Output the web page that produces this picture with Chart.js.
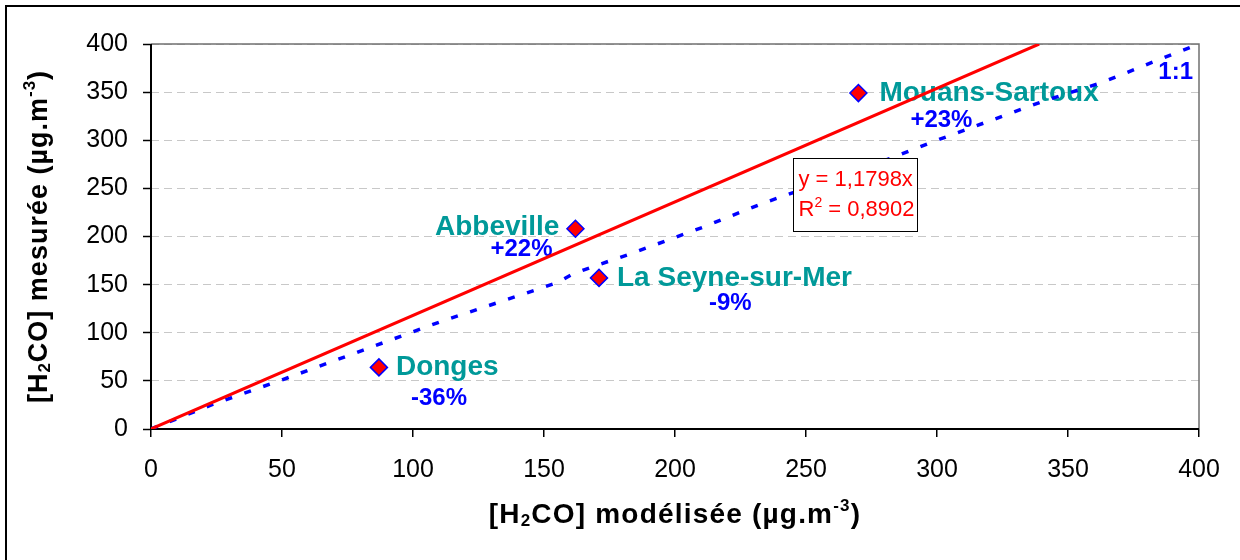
<!DOCTYPE html>
<html>
<head>
<meta charset="utf-8">
<script src="https://cdn.jsdelivr.net/npm/chart.js@4.4.1/dist/chart.umd.min.js"></script>
<style>
  html, body { margin: 0; padding: 0; background: #fff; }
  canvas { display: block; }
</style>
</head>
<body>
<canvas id="chart" width="1240" height="560"></canvas>
<script>
// H2CO per site, µg.m-3
var sites = ["Donges", "Abbeville", "La Seyne-sur-Mer", "Mouans-Sartoux"];
var modelled = [87, 162, 171, 270];
var measured = [64, 208, 157, 349];
var deltas = ["-36%", "+22%", "-9%", "+23%"];

// trend line through origin (ends where it leaves the plot)
var fitX = [0, 339];
var fitY = [0, 400];
var fitEquation = "y = 1,1798x";
var fitR2 = "0,8902";

// 1:1 line as traced on the picture (slightly wavy)
var oneX = [0, 24, 52, 67, 81, 96, 110, 132, 155, 161, 168, 183, 211, 233, 283, 298, 319, 341, 363, 384, 400];
var oneY = [0, 26, 53, 68, 82, 97, 111, 131, 152, 161, 168, 182, 210, 234, 282, 298, 319, 341, 360, 383, 400];

var tickValues = [0, 50, 100, 150, 200, 250, 300, 350, 400];

var FONT = "'Liberation Sans', Arial, sans-serif";
var TEAL = "#009999";
var BLUE = "#0000ff";
var RED = "#ff0000";

// label offsets from each marker, in px: [dx, dy, align]
var nameOffsets = [[17, 0, "left"], [-16, -2, "right"], [18, 0, "left"], [21, 0, "left"]];
var pctOffsets = [[32, 31, "left"], [-85, 21, "left"], [110, 25, "left"], [52, 27, "left"]];

function pts(xs, ys) {
  return xs.map(function (x, i) { return { x: x, y: ys[i] }; });
}

// draws a run of pieces, some raised or lowered, centred or left-aligned at (x, y)
function drawRich(ctx, pieces, x, y, size, weight, align, spacing) {
  ctx.letterSpacing = (spacing || 0) + "px";
  var w = 0;
  pieces.forEach(function (p) {
    var s = p.small ? Math.round(size * 0.62) : size;
    ctx.font = weight + " " + s + "px " + FONT;
    p.w = ctx.measureText(p.t).width;
    p.s = s;
    w += p.w;
  });
  var cx = align === "center" ? x - w / 2 : x;
  ctx.textAlign = "left";
  ctx.textBaseline = "alphabetic";
  var base = y + size * 0.36;
  pieces.forEach(function (p) {
    ctx.font = weight + " " + p.s + "px " + FONT;
    var dy = p.small === "sub" ? size * 0.12 : p.small === "sup" ? -size * 0.42 : 0;
    ctx.fillText(p.t, cx, base + dy);
    cx += p.w;
  });
  ctx.letterSpacing = "0px";
}

function text(ctx, t, x, y, size, weight, color, align) {
  ctx.font = weight + " " + size + "px " + FONT;
  ctx.fillStyle = color;
  ctx.textAlign = align;
  ctx.textBaseline = "middle";
  ctx.fillText(t, x, y);
}

var decorations = {
  id: "decorations",
  beforeDatasetsDraw: function (chart) {
    var ctx = chart.ctx, a = chart.chartArea;
    var xs = chart.scales.x, ys = chart.scales.y;
    ctx.save();
    // plot frame: grey top/right, black axes
    ctx.strokeStyle = "#707070";
    ctx.lineWidth = 1.5;
    ctx.beginPath();
    ctx.moveTo(a.left, a.top);
    ctx.lineTo(a.right, a.top);
    ctx.lineTo(a.right, a.bottom);
    ctx.stroke();
    ctx.strokeStyle = "#000";
    ctx.lineWidth = 2;
    ctx.beginPath();
    ctx.moveTo(a.left, a.top);
    ctx.lineTo(a.left, a.bottom);
    ctx.lineTo(a.right, a.bottom);
    ctx.stroke();

    // site names and differences
    sites.forEach(function (name, i) {
      var px = xs.getPixelForValue(modelled[i]);
      var py = ys.getPixelForValue(measured[i]);
      var n = nameOffsets[i], p = pctOffsets[i];
      text(ctx, name, px + n[0], py + n[1], 28, "bold", TEAL, n[2]);
      text(ctx, deltas[i], px + p[0], py + p[1], 24, "bold", BLUE, p[2]);
    });

    // 1:1 tag at the end of the line
    var ex = xs.getPixelForValue(oneX[oneX.length - 1]);
    var ey = ys.getPixelForValue(oneY[oneY.length - 1]);
    text(ctx, "1:1", ex - 6, ey + 28, 24, "bold", BLUE, "right");
    ctx.restore();
  },
  afterDraw: function (chart) {
    var ctx = chart.ctx, a = chart.chartArea;
    var xs = chart.scales.x, ys = chart.scales.y;
    ctx.save();

    // equation box
    var bx = Math.round(xs.getPixelForValue(245)) + 0.5;
    var by = Math.round(ys.getPixelForValue(282)) + 0.5;
    ctx.fillStyle = "#fff";
    ctx.fillRect(bx, by, 124, 73);
    ctx.strokeStyle = "#000";
    ctx.lineWidth = 1;
    ctx.strokeRect(bx, by, 124, 73);
    ctx.fillStyle = RED;
    drawRich(ctx, [{ t: fitEquation }], bx + 5, by + 20, 22, "normal", "left");
    drawRich(ctx, [{ t: "R" }, { t: "2", small: "sup" }, { t: " = " + fitR2 }], bx + 5, by + 50, 22, "normal", "left");

    // axis titles
    ctx.fillStyle = "#000";
    drawRich(ctx, [
      { t: "[H" }, { t: "2", small: "sub" }, { t: "CO] modélisée (µg.m" },
      { t: "-3", small: "sup" }, { t: ")" }
    ], (a.left + a.right) / 2, 513, 28, "bold", "center", 1.2);

    ctx.translate(37, (a.top + a.bottom) / 2);
    ctx.rotate(-Math.PI / 2);
    drawRich(ctx, [
      { t: "[H" }, { t: "2", small: "sub" }, { t: "CO] mesurée (µg.m" },
      { t: "-3", small: "sup" }, { t: ")" }
    ], 0, 0, 27, "bold", "center", 1);
    ctx.setTransform(1, 0, 0, 1, 0, 0);

    // outer frame (only left and top edges fall inside the picture)
    ctx.strokeStyle = "#000";
    ctx.lineWidth = 2;
    ctx.strokeRect(6, 6, 1400, 800);
    ctx.restore();
  }
};

Chart.defaults.font.family = FONT;
Chart.defaults.color = "#000";

new Chart(document.getElementById("chart").getContext("2d"), {
  type: "scatter",
  data: {
    datasets: [
      {
        label: "Sites",
        data: pts(modelled, measured),
        pointStyle: "rectRot",
        pointRadius: 8.5,
        pointBackgroundColor: RED,
        pointBorderColor: BLUE,
        pointBorderWidth: 1.5
      },
      {
        label: "Régression",
        data: pts(fitX, fitY),
        showLine: true,
        borderColor: RED,
        borderWidth: 3,
        pointRadius: 0
      },
      {
        label: "1:1",
        data: pts(oneX, oneY),
        showLine: true,
        borderColor: BLUE,
        borderWidth: 3.5,
        borderDash: [7, 13],
        pointRadius: 0
      }
    ]
  },
  options: {
    responsive: false,
    animation: false,
    layout: { padding: { top: 44, right: 41, left: 0, bottom: 0 } },
    plugins: { legend: { display: false }, tooltip: { enabled: false } },
    scales: {
      x: {
        type: "linear",
        min: 0,
        max: 400,
        afterBuildTicks: function (s) { s.ticks = tickValues.map(function (v) { return { value: v }; }); },
        afterFit: function (s) { s.height = 131; },
        grid: { drawOnChartArea: false, drawTicks: true, tickLength: 8, color: "#000", lineWidth: 1.5 },
        border: { display: false },
        ticks: { font: { size: 25 }, padding: 18, maxRotation: 0, autoSkip: false }
      },
      y: {
        type: "linear",
        min: 0,
        max: 400,
        afterBuildTicks: function (s) { s.ticks = tickValues.map(function (v) { return { value: v }; }); },
        afterFit: function (s) { s.width = 151; },
        grid: { color: "#c8c8c8", lineWidth: 1, tickLength: 8, tickColor: "#000", tickWidth: 1.5 },
        border: { display: false, dash: [8, 5] },
        ticks: { font: { size: 25 }, padding: 15, autoSkip: false }
      }
    }
  },
  plugins: [decorations]
});
</script>
</body>
</html>
